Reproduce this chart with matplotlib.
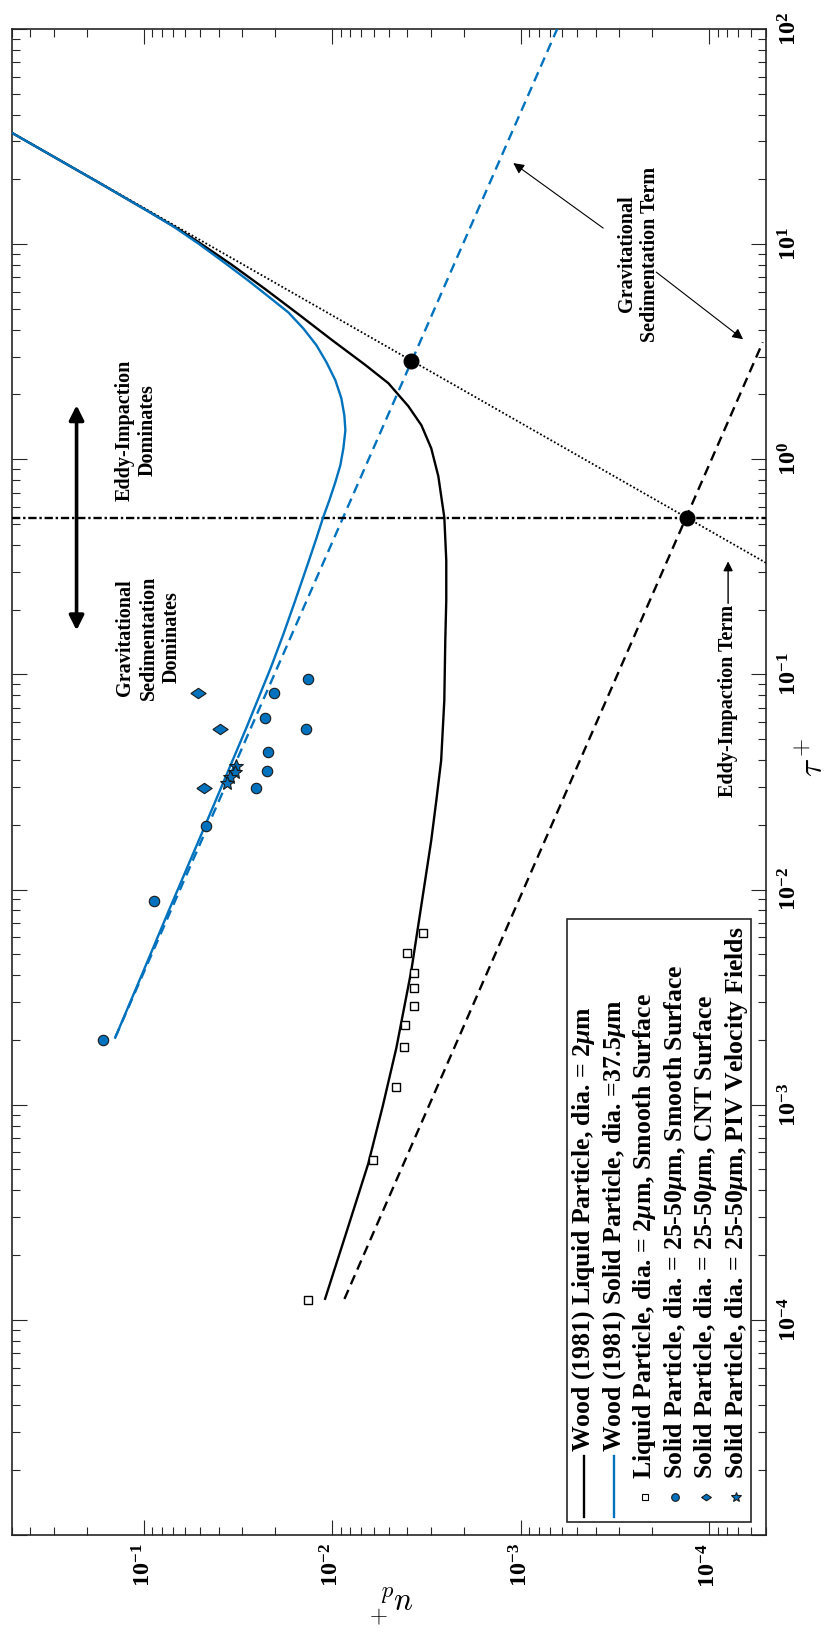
import numpy as np
import matplotlib
matplotlib.use("Agg")
import matplotlib.pyplot as plt
from matplotlib.patches import Rectangle
from matplotlib.lines import Line2D
from matplotlib.ticker import LogLocator, FuncFormatter, NullFormatter

plt.rcParams['font.family'] = ['Liberation Serif', 'DejaVu Serif']
plt.rcParams['font.weight'] = 'bold'
plt.rcParams['mathtext.fontset'] = 'custom'
plt.rcParams['mathtext.rm'] = 'Liberation Serif:bold'
plt.rcParams['mathtext.bf'] = 'Liberation Serif:bold'
plt.rcParams['mathtext.it'] = 'Liberation Serif:italic'
plt.rcParams['ytick.alignment'] = 'center'

BLUE = '#0072BD'
EDGE = '#262626'

# Wood (1981) curves (tau+, u_d+)
tau_wood_liq = [33.2, 19.34, 14.19, 11.74, 10.22, 8.04, 6.17, 4.725, 3.60, 2.742,
                2.257, 1.764, 1.439, 1.125, 0.834, 0.537, 0.339, 0.221, 0.1439,
                0.0757, 0.0398, 0.02594, 0.0169, 0.01102, 4.20e-3, 1.84e-3,
                9.89e-4, 5.32e-4, 2.59e-4, 1.253e-4]
u_wood_liq = [0.508, 0.173, 0.0941, 0.0653, 0.0511, 0.0342, 0.02257, 0.01509,
              0.01009, 6.66e-3, 5.03e-3, 3.94e-3, 3.36e-3, 2.98e-3, 2.733e-3,
              2.54e-3, 2.48e-3, 2.48e-3, 2.51e-3, 2.54e-3, 2.64e-3, 2.80e-3,
              2.98e-3, 3.21e-3, 3.80e-3, 4.56e-3, 5.38e-3, 6.43e-3, 8.35e-3, 0.01089]

tau_wood_sol = [33.2, 19.34, 14.17, 12.06, 10.05, 8.27, 6.76, 5.71, 4.81, 4.05,
                3.39, 2.827, 2.330, 1.921, 1.602, 1.364, 1.125, 0.938, 0.782,
                0.6446, 0.537, 0.4292, 0.3282, 0.2209, 0.1535, 0.1078, 0.0567,
                0.01943, 7.99e-3, 4.20e-3, 2.05e-3]
u_wood_sol = [0.508, 0.173, 0.0941, 0.0693, 0.0511, 0.0377, 0.02777, 0.02176,
              0.01704, 0.01419, 0.01211, 0.01072, 9.61e-3, 8.93e-3, 8.61e-3,
              8.50e-3, 8.71e-3, 9.04e-3, 9.61e-3, 0.01034, 0.01115, 0.01211,
              0.01342, 0.01567, 0.01814, 0.02110, 0.02842, 0.0476, 0.0734, 0.0999,
              0.1413]

# individual terms
tau_grav_liq = [1.25e-4, 3.5]
u_grav_liq = [8.6e-3, 5.2e-5]
tau_grav_sol = [2.06e-3, 100.0]
u_grav_sol = [0.141, 6.4e-4]
tau_eddy = [0.33, 33.0]
u_eddy = [5.0e-5, 0.5]
tau_crit = 0.532
tau_cross = [0.532, 2.86]
u_cross = [1.31e-4, 3.8e-3]

# measurements
tau_liq = [1.24e-4, 5.51e-4, 1.21e-3, 1.85e-3, 2.34e-3, 2.88e-3, 3.47e-3, 4.10e-3,
           5.08e-3, 6.26e-3]
u_liq = [0.0135, 6.09e-3, 4.60e-3, 4.17e-3, 4.12e-3, 3.66e-3, 3.66e-3, 3.69e-3,
         4.02e-3, 3.29e-3]
tau_smooth = [2.0e-3, 8.82e-3, 0.0197, 0.0297, 0.0357, 0.0438, 0.0624, 0.0822,
              0.0557, 0.0953]
u_smooth = [0.163, 0.0885, 0.0468, 0.0254, 0.0222, 0.0220, 0.0226, 0.0203,
            0.01373, 0.0134]
tau_cnt = [0.0822, 0.0557, 0.0298]
u_cnt = [0.0516, 0.0392, 0.0477]
tau_piv = [0.0377, 0.035, 0.0333, 0.0312]
u_piv = [0.0324, 0.0329, 0.0347, 0.0362]

legend_labels = [
    'Wood (1981) Liquid Particle, dia. = 2$\\mu$m',
    'Wood (1981) Solid Particle, dia. =37.5$\\mu$m',
    'Liquid Particle, dia. = 2$\\mu$m, Smooth Surface',
    'Solid Particle, dia. = 25-50$\\mu$m, Smooth Surface',
    'Solid Particle, dia. = 25-50$\\mu$m, CNT Surface',
    'Solid Particle, dia. = 25-50$\\mu$m, PIV Velocity Fields',
]

diamond = [(-1, 0), (0, 0.68), (1, 0), (0, -0.68), (-1, 0)]

fig = plt.figure(figsize=(8.33, 16.37), dpi=100)
ax = fig.add_axes([0.01405, 0.06231, 0.9055, 0.9200])
ax.set_xscale('log')
ax.set_yscale('log')

# the figure is drawn turned: u_d+ runs horizontally (growing to the left), tau+ vertically
ax.plot(u_eddy, tau_eddy, color='k', lw=1.3, ls=(0, (1, 1.2)), zorder=3)
ax.plot(u_grav_liq, tau_grav_liq, color='k', lw=1.7, ls=(0, (4.2, 2.6)), zorder=3)
ax.plot(u_grav_sol, tau_grav_sol, color=BLUE, lw=1.7, ls=(0, (4.2, 2.6)), zorder=3)
ax.plot(u_wood_liq, tau_wood_liq, color='k', lw=1.7, zorder=4)
ax.plot(u_wood_sol, tau_wood_sol, color=BLUE, lw=1.7, zorder=4)
ax.axhline(tau_crit, color='k', lw=1.7, ls=(0, (3.5, 1.2, 1, 1.2)), zorder=3)
ax.plot(u_cross, tau_cross, 'o', color='k', ms=10.5, zorder=6)

ax.plot(u_liq, tau_liq, 's', mfc='white', mec='k', ms=6, mew=1.0, ls='none', zorder=5)
ax.plot(u_smooth, tau_smooth, 'o', mfc=BLUE, mec='#1a1a1a', ms=7.5, mew=0.8, ls='none', zorder=5)
ax.plot(u_cnt, tau_cnt, marker=diamond, mfc=BLUE, mec='#1a1a1a', ms=11, mew=0.8, ls='none', zorder=5)
ax.plot(u_piv, tau_piv, '*', mfc=BLUE, mec='#1a1a1a', ms=10.5, mew=0.8, ls='none', zorder=5)

ax.set_xlim(0.5, 5e-5)
ax.set_ylim(1e-5, 1e2)


def tick_fmt(v, p):
    e = int(round(np.log10(v)))
    if e < -4:
        return ''
    return r'$\mathbf{10^{%d}}$' % e


for axis in (ax.xaxis, ax.yaxis):
    axis.set_major_locator(LogLocator(base=10, numticks=20))
    axis.set_minor_locator(LogLocator(base=10, subs=np.arange(2, 10), numticks=20))
    axis.set_major_formatter(FuncFormatter(tick_fmt))
    axis.set_minor_formatter(NullFormatter())

ax.tick_params(which='both', direction='in', top=True, bottom=True, left=True, right=True,
               labelleft=False, labelright=True, labelbottom=True, labeltop=False,
               color=EDGE, width=0.8, labelsize=17.5)
ax.tick_params(which='major', length=10.8)
ax.tick_params(which='minor', length=5.8)
ax.tick_params(axis='x', labelrotation=90, pad=6)
ax.tick_params(axis='y', labelrotation=90, pad=9)
for s in ax.spines.values():
    s.set_color(EDGE)
    s.set_linewidth(1.2)

fig.text(392 / 833, 1 - 1603 / 1637, r'$u_d^+$', rotation=180, fontsize=24,
         math_fontfamily='cm', ha='center', va='center')
fig.text(814 / 833, 1 - 757 / 1637, r'$\tau^+$', rotation=90, fontsize=24,
         math_fontfamily='cm', ha='center', va='center')

# annotations
ax.text(0.110, 1.364, 'Eddy-Impaction\nDominates', rotation=90, fontsize=14.5,
        ha='center', va='center', multialignment='center')
ax.text(0.0941, 0.1486, 'Gravitational\nSedimentation\nDominates', rotation=90,
        fontsize=14.5, ha='center', va='center', multialignment='center')
ax.annotate('', xy=(0.2265, 1.783), xytext=(0.2265, 0.1602),
            arrowprops=dict(arrowstyle='<|-|>', lw=2.6, color='k', mutation_scale=22,
                            shrinkA=0, shrinkB=0))
ax.text(2.38e-4, 9.0, 'Gravitational\nSedimentation Term', rotation=90, fontsize=14.5,
        ha='center', va='center', multialignment='center')
ax.annotate('', xy=(1.094e-3, 23.8), xytext=(3.65e-4, 11.87),
            arrowprops=dict(arrowstyle='-|>', lw=0.8, color='k', mutation_scale=16,
                            shrinkA=0, shrinkB=0))
ax.annotate('', xy=(6.61e-5, 3.61), xytext=(1.91e-4, 7.41),
            arrowprops=dict(arrowstyle='-|>', lw=0.8, color='k', mutation_scale=16,
                            shrinkA=0, shrinkB=0))
ax.text(7.94e-5, 0.2105, 'Eddy-Impaction Term', rotation=90, fontsize=14.5,
        ha='center', va='top')
ax.annotate('', xy=(7.94e-5, 0.3354), xytext=(7.94e-5, 0.2139),
            arrowprops=dict(arrowstyle='-|>', lw=1.0, color='k', mutation_scale=14,
                            shrinkA=0, shrinkB=0))


# legend, built by hand so that it can be turned with the rest
def ax_x(px):
    return (px - 11.7) / 754.3


def ax_y(py):
    return (1535 - py) / 1506


ax.add_patch(Rectangle((ax_x(567), ax_y(1522)), ax_x(751) - ax_x(567),
                       ax_y(919) - ax_y(1522), transform=ax.transAxes,
                       facecolor='white', edgecolor=EDGE, lw=1.2, zorder=8))
handles = [dict(color='k'), dict(color=BLUE),
           dict(marker='s', mfc='white', mec='k', ms=4.5),
           dict(marker='o', mfc=BLUE, mec='#1a1a1a', ms=5.5),
           dict(marker=diamond, mfc=BLUE, mec='#1a1a1a', ms=7),
           dict(marker='*', mfc=BLUE, mec='#1a1a1a', ms=7)]
for i, (lab, h) in enumerate(zip(legend_labels, handles)):
    xx = ax_x(584 + 30.5 * i)
    if 'marker' in h:
        ax.add_line(Line2D([xx], [ax_y(1497)], ls='none', mew=0.8, transform=ax.transAxes,
                           zorder=9, **h))
        y0 = ax_y(1479)
    else:
        ax.add_line(Line2D([xx, xx], [ax_y(1517), ax_y(1456)], lw=1.7,
                           transform=ax.transAxes, zorder=9, **h))
        y0 = ax_y(1452)
    ax.text(xx, y0, lab, rotation=90, fontsize=18.5, ha='center', va='bottom',
            transform=ax.transAxes, zorder=9)

fig.savefig('out.png', dpi=100)
